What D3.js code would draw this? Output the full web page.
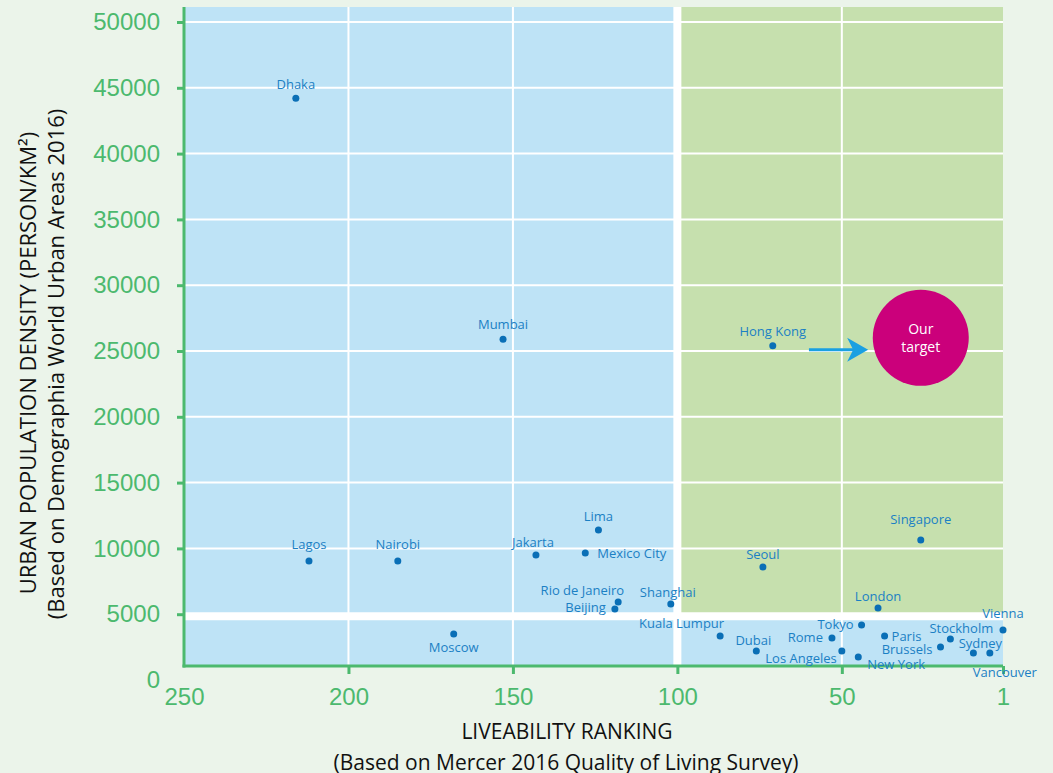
<!DOCTYPE html>
<html>
<head>
<meta charset="utf-8">
<script src="https://cdn.jsdelivr.net/npm/d3@7"></script>
<style>
body { margin: 0; background: #ebf4ea; }
svg { display: block; }
</style>
</head>
<body>
<div id="chart"></div>
<script>
// cities, Mercer 2016 ranking and Demographia density
var cities = ["Dhaka", "Mumbai", "Hong Kong", "Lagos", "Nairobi", "Jakarta", "Lima", "Mexico City",
    "Rio de Janeiro", "Beijing", "Shanghai", "Moscow", "Kuala Lumpur", "Dubai", "Seoul", "Singapore",
    "London", "Tokyo", "Rome", "Los Angeles", "New York", "Paris", "Brussels", "Stockholm",
    "Sydney", "Vancouver", "Vienna"];
var ranking = [216, 153, 71, 212, 185, 143, 124, 128,
    118, 119, 102, 168, 87, 76, 74, 26,
    39, 44, 53, 50, 45, 37, 20, 17,
    10, 5, 1];
var density = [44200, 25900, 25400, 9050, 9050, 9500, 11400, 9650,
    5930, 5400, 5780, 3500, 3340, 2200, 8590, 10640,
    5470, 4180, 3190, 2200, 1750, 3340, 2510, 3120,
    2050, 2050, 3800];

var xTicks = [250, 200, 150, 100, 50, 1];
var yTicks = [0, 5000, 10000, 15000, 20000, 25000, 30000, 35000, 40000, 45000, 50000];

// "Our target" annotation
var targetRank = 26;
var targetDensity = 26000;
var arrowRanks = [60, 42];
var arrowDensity = 25100;

// label offsets from each dot: [dx, dy, anchor]
var labelPlace = {
    "Dhaka": [0, -14, "middle"], "Mumbai": [0, -15, "middle"], "Hong Kong": [0, -14, "middle"],
    "Lagos": [0, -16, "middle"], "Nairobi": [0, -16, "middle"], "Jakarta": [-3, -13, "middle"],
    "Lima": [0, -14, "middle"], "Mexico City": [12, 0, "start"], "Rio de Janeiro": [6, -12, "end"],
    "Beijing": [-9, -1, "end"], "Shanghai": [-3, -11, "middle"], "Moscow": [0, 14, "middle"],
    "Kuala Lumpur": [4, -13, "end"], "Dubai": [-3, -11, "middle"], "Seoul": [0, -13, "middle"],
    "Singapore": [0, -21, "middle"], "London": [0, -12, "middle"], "Tokyo": [-8, -1, "end"],
    "Rome": [-9, -1, "end"], "Los Angeles": [-5, 7, "end"], "New York": [9, 7, "start"],
    "Paris": [7, 0, "start"], "Brussels": [-8, 2, "end"], "Stockholm": [11, -10, "middle"],
    "Sydney": [7, -10, "middle"], "Vancouver": [15, 19, "middle"], "Vienna": [0, -17, "middle"]
};

var w = 1053;
var h = 773;
var plotTop = 7;
var plotBottom = 666;
var green = "#4cb96e";

var x = d3.scaleLinear().domain([250, 1]).range([184, 1003]);
var y = d3.scaleLinear().domain([0, 50000]).range([680, 22]);

var svg = d3.select("#chart")
    .append("svg")
    .attr("width", w)
    .attr("height", h);

// background regions
svg.append("rect")
    .attr("x", x(250)).attr("y", plotTop)
    .attr("width", x(1) - x(250)).attr("height", plotBottom - plotTop)
    .attr("fill", "#bee3f6");

svg.append("rect")
    .attr("x", x(100)).attr("y", plotTop)
    .attr("width", x(1) - x(100)).attr("height", y(5000) - plotTop)
    .attr("fill", "#c6e0ae");

// thin grid lines
svg.selectAll(".hgrid")
    .data(yTicks.filter(function(d) { return d > 5000; }))
    .enter().append("line")
    .attr("x1", x(250)).attr("x2", x(1))
    .attr("y1", function(d) { return y(d); })
    .attr("y2", function(d) { return y(d); })
    .attr("stroke", "white").attr("stroke-width", 2);

svg.selectAll(".vgrid")
    .data([200, 150, 50])
    .enter().append("line")
    .attr("y1", plotTop).attr("y2", plotBottom)
    .attr("x1", function(d) { return x(d); })
    .attr("x2", function(d) { return x(d); })
    .attr("stroke", "white").attr("stroke-width", 2);

// thick dividers at rank 100 and 5000 people
svg.append("line")
    .attr("x1", x(100)).attr("x2", x(100))
    .attr("y1", plotTop).attr("y2", plotBottom)
    .attr("stroke", "white").attr("stroke-width", 8);

svg.append("line")
    .attr("x1", x(250)).attr("x2", x(1))
    .attr("y1", y(5000) + 2).attr("y2", y(5000) + 2)
    .attr("stroke", "white").attr("stroke-width", 8);

// axes
var yAxis = svg.append("g")
    .attr("transform", "translate(" + x(250) + ",0)")
    .call(d3.axisLeft(y).tickValues(yTicks).tickSize(7).tickPadding(17).tickFormat(d3.format("d")));
yAxis.select(".domain").remove();
yAxis.selectAll(".tick").filter(function(d) { return d == 0; }).select("line").remove();

var xAxis = svg.append("g")
    .attr("transform", "translate(0," + plotBottom + ")")
    .call(d3.axisBottom(x).tickValues(xTicks).tickSize(8).tickPadding(14).tickFormat(d3.format("d")));
xAxis.select(".domain").remove();
xAxis.selectAll(".tick").filter(function(d) { return d == 250; }).select("line").remove();

svg.selectAll(".tick line").attr("stroke", green).attr("stroke-width", 3);
svg.selectAll(".tick text")
    .attr("fill", green)
    .style("font-family", "'Liberation Sans', Arial, sans-serif")
    .style("font-size", "24px");

svg.append("line")
    .attr("x1", x(250)).attr("x2", x(250))
    .attr("y1", plotTop).attr("y2", plotBottom + 1.5)
    .attr("stroke", green).attr("stroke-width", 3);

svg.append("line")
    .attr("x1", x(250) - 1.5).attr("x2", x(1))
    .attr("y1", plotBottom).attr("y2", plotBottom)
    .attr("stroke", green).attr("stroke-width", 3);

// axis titles
var titleFont = "'Open Sans', 'Noto Sans', sans-serif";

svg.append("text")
    .attr("x", 567).attr("y", 739)
    .attr("text-anchor", "middle")
    .style("font-family", titleFont).style("font-size", "21px").attr("fill", "#111")
    .text("LIVEABILITY RANKING");

svg.append("text")
    .attr("x", 566).attr("y", 770)
    .attr("text-anchor", "middle")
    .style("font-family", titleFont).style("font-size", "21px").attr("fill", "#111")
    .text("(Based on Mercer 2016 Quality of Living Survey)");

svg.append("text")
    .attr("transform", "translate(36,363) rotate(-90)")
    .attr("text-anchor", "middle")
    .style("font-family", titleFont).style("font-size", "22px").attr("fill", "#111")
    .text("URBAN POPULATION DENSITY (PERSON/KM²)");

svg.append("text")
    .attr("transform", "translate(64,364) rotate(-90)")
    .attr("text-anchor", "middle")
    .style("font-family", titleFont).style("font-size", "22px").attr("fill", "#111")
    .text("(Based on Demographia World Urban Areas 2016)");

// city dots and labels
var points = cities.map(function(c, i) {
    return { name: c, rank: ranking[i], dens: density[i] };
});

svg.selectAll(".dot")
    .data(points)
    .enter().append("circle")
    .attr("cx", function(d) { return x(d.rank); })
    .attr("cy", function(d) { return y(d.dens); })
    .attr("r", 3.5)
    .attr("fill", "#0a6fb6");

svg.selectAll(".city")
    .data(points)
    .enter().append("text")
    .attr("x", function(d) { return x(d.rank) + labelPlace[d.name][0]; })
    .attr("y", function(d) { return y(d.dens) + labelPlace[d.name][1]; })
    .attr("dy", "0.35em")
    .attr("text-anchor", function(d) { return labelPlace[d.name][2]; })
    .style("font-family", titleFont).style("font-size", "13px")
    .attr("fill", "#1b80c4")
    .text(function(d) { return d.name; });

// arrow to target
svg.append("line")
    .attr("x1", x(arrowRanks[0])).attr("x2", x(arrowRanks[1]) - 14)
    .attr("y1", y(arrowDensity)).attr("y2", y(arrowDensity))
    .attr("stroke", "#1aa0e2").attr("stroke-width", 3);

var tipX = x(arrowRanks[1]);
var tipY = y(arrowDensity);
svg.append("path")
    .attr("d", "M" + tipX + "," + tipY + " L" + (tipX - 21) + "," + (tipY - 12) +
        " L" + (tipX - 15) + "," + tipY + " L" + (tipX - 21) + "," + (tipY + 12) + " Z")
    .attr("fill", "#1aa0e2");

svg.append("circle")
    .attr("cx", x(targetRank)).attr("cy", y(targetDensity))
    .attr("r", 48)
    .attr("fill", "#cb007b");

svg.append("text")
    .attr("x", x(targetRank)).attr("y", y(targetDensity) - 9)
    .attr("dy", "0.35em")
    .attr("text-anchor", "middle")
    .style("font-family", titleFont).style("font-size", "14px").attr("fill", "white")
    .text("Our");

svg.append("text")
    .attr("x", x(targetRank)).attr("y", y(targetDensity) + 9)
    .attr("dy", "0.35em")
    .attr("text-anchor", "middle")
    .style("font-family", titleFont).style("font-size", "14px").attr("fill", "white")
    .text("target");
</script>
</body>
</html>
